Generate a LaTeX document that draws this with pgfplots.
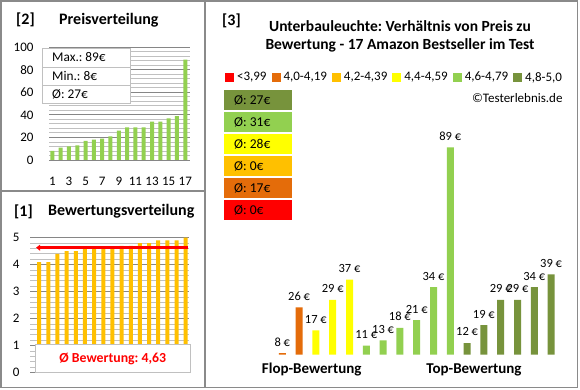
\documentclass[border=0pt]{standalone}
\usepackage{fontspec}
\setmainfont{Carlito}
\usepackage{pgfplots}
\pgfplotsset{compat=1.18}
\usetikzlibrary{arrows.meta}
\definecolor{cRed}{HTML}{FF0000}
\definecolor{cOrange}{HTML}{E46C0A}
\definecolor{cYO}{HTML}{FFC000}
\definecolor{cYellow}{HTML}{FFFF00}
\definecolor{cLG}{HTML}{92D050}
\definecolor{cDG}{HTML}{77933C}
\definecolor{frameC}{HTML}{8A8A8A}
\definecolor{gridMaj}{HTML}{868686}
\definecolor{gridMin}{HTML}{C0C0C0}
\newcommand{\fs}[1]{\fontsize{#1}{#1}\selectfont}
\frenchspacing
\pgfplotsset{/pgf/number format/assume math mode=true,
  sq/.style={legend image code/.code={\fill[#1] (0pt,-4pt) rectangle (8pt,4pt);}}}
\begin{document}
\begin{tikzpicture}[x=1pt,y=1pt]
\path[use as bounding box] (0,0) rectangle (580,390);
\fill[white] (0,0) rectangle (580,390);

% ---------- Price distribution [2]
\begin{axis}[at={(49pt,230pt)}, anchor=south west, scale only axis,
  width=141pt, height=112.7pt,
  xmin=0.6, xmax=17.57, ymin=0, ymax=100,
  ytick={0,20,...,100}, minor y tick num=4,
  xtick={1,3,...,17},
  ymajorgrids, yminorgrids,
  major grid style={draw=gridMaj, line width=0.9pt},
  minor grid style={draw=gridMin, line width=0.9pt},
  axis line style={draw=none}, major tick length=0pt, minor tick length=0pt,
  ticklabel style={font=\fs{13}},
  xticklabel style={yshift=-14pt},
  yticklabel style={xshift=-12pt}]
\addplot[ybar, bar width=4pt, bar shift=0pt, fill=cLG, draw=none] coordinates {
 (1,8) (2,11) (3,12) (4,13) (5,17) (6,18) (7,19) (8,21) (9,26)
 (10,29) (11,29) (12,29) (13,34) (14,34) (15,37) (16,39) (17,89)};
\end{axis}

% ---------- Rating distribution [1]
\begin{axis}[at={(30pt,17.3pt)}, anchor=south west, scale only axis,
  width=159pt, height=135pt,
  xmin=0, xmax=17.36, ymin=0, ymax=5,
  ytick={0,1,...,5}, minor y tick num=4,
  xtick=\empty,
  ymajorgrids, yminorgrids,
  major grid style={draw=gridMaj, line width=0.9pt},
  minor grid style={draw=gridMin, line width=0.9pt},
  axis line style={draw=none}, major tick length=0pt, minor tick length=0pt,
  ticklabel style={font=\fs{13}},
  yticklabel style={xshift=-7pt}, clip=false]
\addplot[ybar, bar width=4pt, bar shift=0pt, fill=cYO, draw=none] coordinates {
 (1,4.1) (2,4.1) (3,4.4) (4,4.5) (5,4.5) (6,4.6) (7,4.6) (8,4.6) (9,4.6)
 (10,4.7) (11,4.7) (12,4.8) (13,4.8) (14,4.9) (15,4.9) (16,4.9) (17,5.0)};
\addplot[cRed, line width=3pt, {Triangle[length=4pt,width=6pt]}-, shorten <=-1pt] coordinates {(0.78,4.63) (17.22,4.63)};
\end{axis}

% ---------- Main chart [3]
\begin{axis}[at={(265.5pt,35.3pt)}, anchor=south west, scale only axis,
  width=302.4pt, height=254.7pt,
  xmin=0, xmax=18, ymin=7.4, ymax=107.7, hide axis,
  nodes near coords={\pgfmathprintnumber{\pgfplotspointmeta}\ €},
  every node near coord/.append style={font=\fs{12.5}, anchor=south, yshift=3.5pt},
  legend style={at={(-0.134,1.089)}, anchor=west, draw=none, fill=none,
    legend columns=6, font=\fs{13}, inner sep=0pt,
    /tikz/every odd column/.append style={column sep=2pt},
    /tikz/every even column/.append style={column sep=3.6pt},
    nodes={inner sep=1.5pt}},
  ]
\addlegendimage{sq=cRed}\addlegendentry{<3,99}
\addlegendimage{sq=cOrange}\addlegendentry{4,0-4,19}
\addlegendimage{sq=cYO}\addlegendentry{4,2-4,39}
\addlegendimage{sq=cYellow}\addlegendentry{4,4-4,59}
\addlegendimage{sq=cLG}\addlegendentry{4,6-4,79}
\addlegendimage{sq=cDG}\addlegendentry{4,8-5,0}
\addplot[ybar, bar width=7pt, bar shift=0pt, fill=cOrange, draw=none, forget plot] coordinates {(1,8) (2,26)};
\addplot[ybar, bar width=7pt, bar shift=0pt, fill=cYellow, draw=none, forget plot] coordinates {(3,17) (4,29) (5,37)};
\addplot[ybar, bar width=7pt, bar shift=0pt, fill=cLG, draw=none, forget plot] coordinates {(6,11) (7,13) (8,18) (9,21) (10,34) (11,89)};
\addplot[ybar, bar width=7pt, bar shift=0pt, fill=cDG, draw=none, forget plot] coordinates {(12,12) (13,19) (14,29) (15,29) (16,34) (17,39)};
\end{axis}

% ---------- overlays: stats boxes
\draw[gridMin, fill=white, line width=0.9pt] (42,287) rectangle (130,342);
\draw[gridMin, line width=0.9pt] (42,323) -- (130,323) (42,305) -- (130,305);
\node[anchor=west, inner sep=0, font=\fs{13.3}] at (52,332.5) {Max.: 89€};
\node[anchor=west, inner sep=0, font=\fs{13.3}] at (52,314) {Min.: 8€};
\node[anchor=west, inner sep=0, font=\fs{13.3}] at (52,296) {Ø: 27€};

\draw[gridMin, fill=white, line width=0.9pt] (35,17.3) rectangle (190.7,46);
\node[font=\bfseries\fs{13.8}, text=cRed, inner sep=0] at (112.8,31.5) {Ø Bewertung: 4,63};

% Ø boxes
\fill[cDG] (224,280) rectangle (291.7,300); \node[anchor=west, inner sep=0, font=\fs{13.5}] at (234,290) {Ø: 27€};
\fill[cLG] (224,258) rectangle (291.7,278); \node[anchor=west, inner sep=0, font=\fs{13.5}] at (234,268) {Ø: 31€};
\fill[cYellow] (224,236) rectangle (291.7,256); \node[anchor=west, inner sep=0, font=\fs{13.5}] at (234,246) {Ø: 28€};
\fill[cYO] (224,214) rectangle (291.7,234); \node[anchor=west, inner sep=0, font=\fs{13.5}] at (234,224) {Ø: 0€};
\fill[cOrange] (224,192) rectangle (291.7,212); \node[anchor=west, inner sep=0, font=\fs{13.5}] at (234,202) {Ø: 17€};
\fill[cRed] (224,170) rectangle (291.7,190); \node[anchor=west, inner sep=0, font=\fs{13.5}] at (234,180) {Ø: 0€};

% titles
\node[anchor=west, inner sep=0, font=\bfseries\fs{16}] at (16,370) {[2]};
\node[anchor=west, inner sep=0, font=\bfseries\fs{16}] at (59,370) {Preisverteilung};
\node[anchor=west, inner sep=0, font=\bfseries\fs{16}] at (14,178.3) {[1]};
\node[anchor=west, inner sep=0, font=\bfseries\fs{16}] at (48,178.3) {Bewertungsverteilung};
\node[anchor=west, inner sep=0, font=\bfseries\fs{16}] at (222,369.5) {[3]};
\node[inner sep=0, font=\bfseries\fs{15.5}] at (400,364.3) {Unterbauleuchte: Verhältnis von Preis zu};
\node[inner sep=0, font=\bfseries\fs{15.5}] at (400,344.3) {Bewertung - 17 Amazon Bestseller im Test};
\node[anchor=east, inner sep=0, font=\fs{13}] at (562.7,291.7) {©Testerlebnis.de};
\node[inner sep=0, font=\bfseries\fs{15}] at (311.7,20) {Flop-Bewertung};
\node[inner sep=0, font=\bfseries\fs{15}] at (474,20) {Top-Bewertung};

% panel frames
\draw[frameC, line width=1.5pt] (1,2.3) rectangle (577.5,389);
\draw[frameC, line width=1.5pt] (205,2.3) -- (205,389);
\draw[frameC, line width=1.5pt] (1,199) -- (205,199);
\end{tikzpicture}
\end{document}
